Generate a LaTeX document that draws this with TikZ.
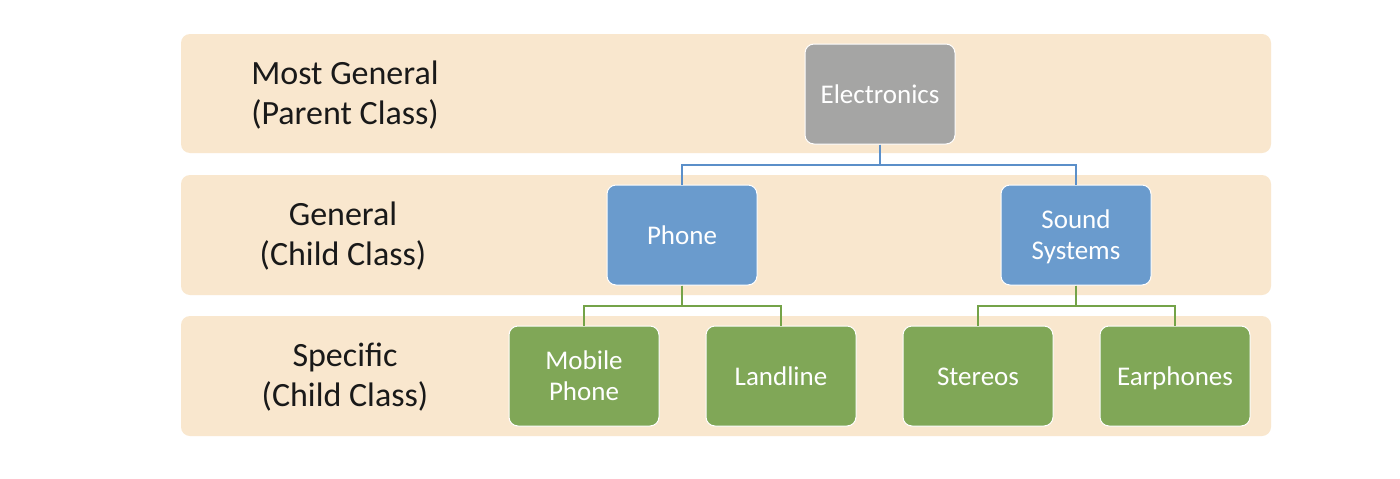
\documentclass[tikz,border=0pt]{standalone}
\usepackage{fontspec}
\setmainfont{Carlito}
\definecolor{bandfill}{HTML}{F9E7CE}
\definecolor{graybox}{HTML}{A5A5A4}
\definecolor{bluebox}{HTML}{6A9BCD}
\definecolor{greenbox}{HTML}{80A757}
\definecolor{blueline}{HTML}{5B8FC9}
\definecolor{greenline}{HTML}{74A348}
\newcommand{\bt}{\rule[-9.3pt]{0pt}{37pt}}
\newcommand{\lt}{\rule[-12pt]{0pt}{46pt}}
\newcommand{\bs}{\strut}
\begin{document}
\begin{tikzpicture}[x=1pt,y=-1pt,
  band/.style={fill=bandfill, draw=none, rounded corners=9pt},
  box/.style={draw=white, line width=1pt, rounded corners=9pt, minimum width=150pt, minimum height=100pt, text=white, align=center, font=\fontsize{27}{31}\selectfont, inner sep=0pt},
  lbl/.style={align=center, font=\fontsize{34}{40}\selectfont, text=black!90},
  bconn/.style={draw=blueline, line width=1.2pt},
  gconn/.style={draw=greenline, line width=1.2pt}]
\useasboundingbox (0,0) rectangle (1400,479);
\fill[white] (0,0) rectangle (1400,479);
% bands
\path[band] (181,34) rectangle (1271,153);
\path[band] (181,175) rectangle (1271,295);
\path[band] (181,316) rectangle (1271,436);
% labels
\node[lbl] (l1) at (345,93) {Most General\lt\\(Parent Class)\bs};
\node[lbl] (l2) at (343,234) {General\lt\\(Child Class)\bs};
\node[lbl] (l3) at (345,375) {Specific\lt\\(Child Class)\bs};
% boxes
\node[box, fill=graybox] (el) at (880,94) {Electronics\bt};
\node[box, fill=bluebox] (ph) at (682,235) {Phone\bt};
\node[box, fill=bluebox] (ss) at (1076,235) {Sound\bt\\Systems\bs};
\node[box, fill=greenbox] (mp) at (584,376) {Mobile\bt\\Phone\bs};
\node[box, fill=greenbox] (ll) at (781,376) {Landline\bt};
\node[box, fill=greenbox] (st) at (978,376) {Stereos\bt};
\node[box, fill=greenbox] (ea) at (1175,376) {Earphones\bt};
% connectors
\draw[bconn] (el.south) -- ++(0,20.5) -| (ph.north);
\draw[bconn] (el.south) -- ++(0,20.5) -| (ss.north);
\draw[gconn] (ph.south) -- ++(0,20.5) -| (mp.north);
\draw[gconn] (ph.south) -- ++(0,20.5) -| (ll.north);
\draw[gconn] (ss.south) -- ++(0,20.5) -| (st.north);
\draw[gconn] (ss.south) -- ++(0,20.5) -| (ea.north);
\end{tikzpicture}
\end{document}
